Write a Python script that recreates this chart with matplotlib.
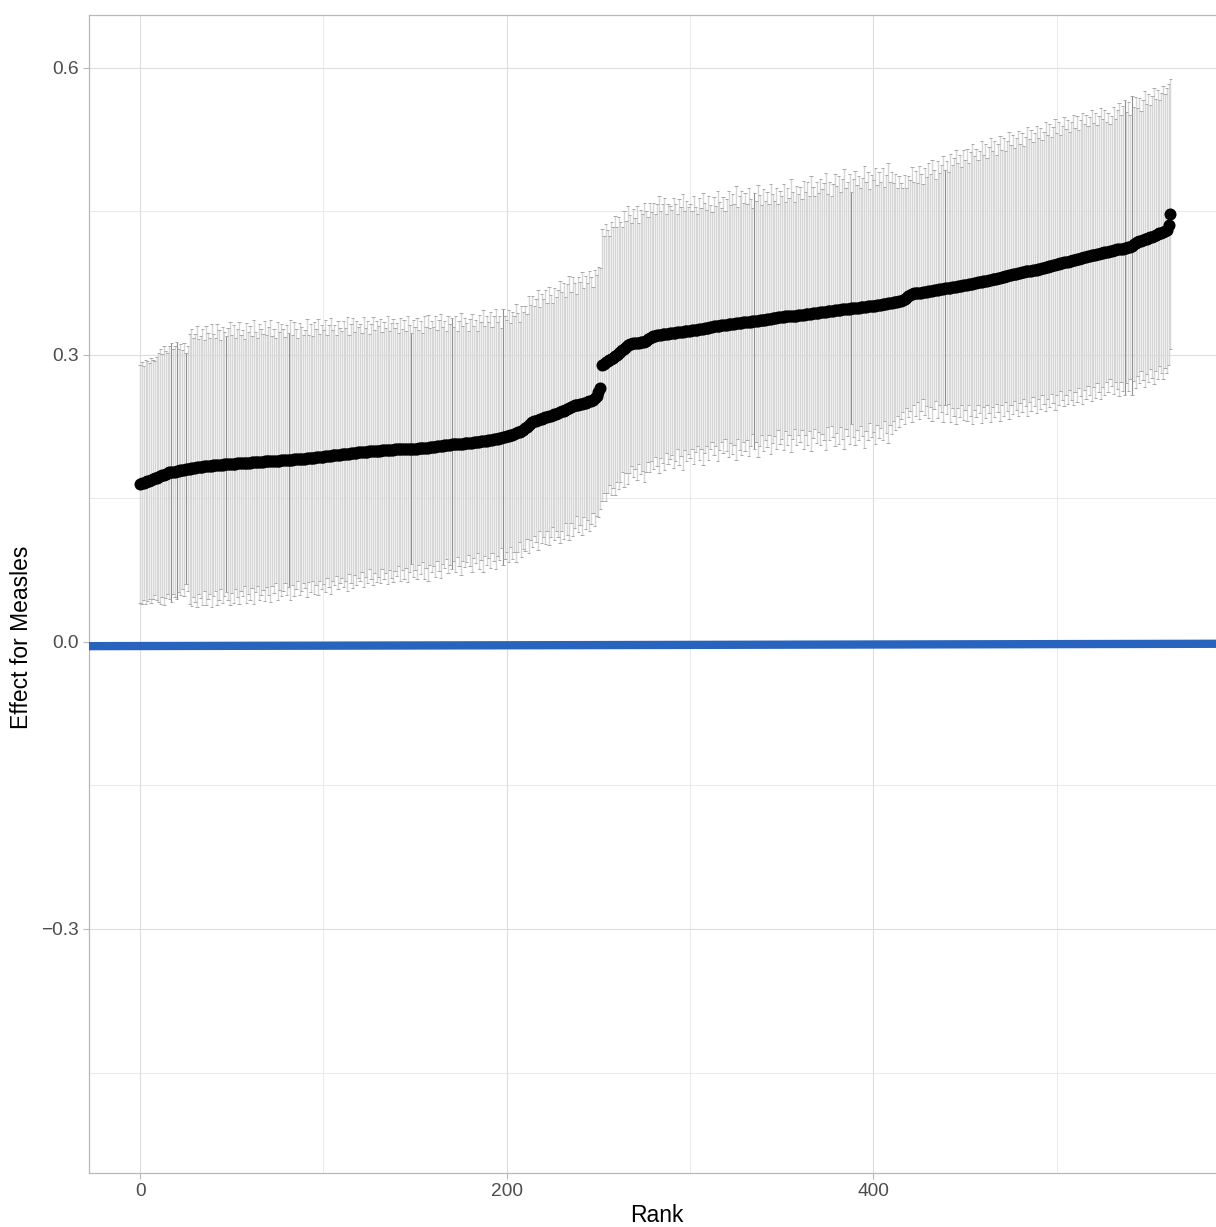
import matplotlib
matplotlib.use('Agg')
import matplotlib.pyplot as plt
import numpy as np

plt.rcParams['font.family'] = ['Liberation Sans', 'DejaVu Sans']

# Estimated effect per rank (ranks 0..562)
est = [
0.165,0.166,0.166,0.167,0.168,0.168,0.169,0.170,0.171,0.171,
0.172,0.173,0.174,0.174,0.175,0.176,0.177,0.177,0.178,0.178,
0.179,0.179,0.180,0.180,0.180,0.181,0.181,0.181,0.182,0.182,
0.182,0.183,0.183,0.183,0.183,0.184,0.184,0.184,0.184,0.184,
0.185,0.185,0.185,0.185,0.185,0.185,0.186,0.186,0.186,0.186,
0.186,0.186,0.186,0.187,0.187,0.187,0.187,0.187,0.187,0.187,
0.187,0.188,0.188,0.188,0.188,0.188,0.188,0.188,0.189,0.189,
0.189,0.189,0.189,0.189,0.189,0.189,0.189,0.190,0.190,0.190,
0.190,0.190,0.190,0.190,0.191,0.191,0.191,0.191,0.191,0.191,
0.191,0.192,0.192,0.192,0.192,0.192,0.193,0.193,0.193,0.193,
0.193,0.194,0.194,0.194,0.194,0.195,0.195,0.195,0.195,0.195,
0.196,0.196,0.196,0.196,0.196,0.197,0.197,0.197,0.197,0.198,
0.198,0.198,0.198,0.198,0.198,0.199,0.199,0.199,0.199,0.199,
0.199,0.199,0.200,0.200,0.200,0.200,0.200,0.200,0.200,0.201,
0.201,0.201,0.201,0.201,0.201,0.201,0.202,0.202,0.202,0.202,
0.202,0.202,0.203,0.203,0.203,0.203,0.203,0.203,0.204,0.204,
0.204,0.204,0.205,0.205,0.205,0.205,0.206,0.206,0.206,0.206,
0.207,0.207,0.207,0.207,0.207,0.207,0.207,0.208,0.208,0.208,
0.208,0.208,0.209,0.209,0.209,0.209,0.210,0.210,0.210,0.210,
0.211,0.211,0.211,0.212,0.212,0.212,0.213,0.213,0.214,0.214,
0.215,0.215,0.216,0.216,0.217,0.218,0.219,0.219,0.220,0.221,
0.223,0.225,0.227,0.229,0.230,0.231,0.231,0.232,0.233,0.233,
0.234,0.235,0.235,0.236,0.236,0.237,0.238,0.238,0.239,0.240,
0.241,0.241,0.242,0.243,0.244,0.245,0.246,0.247,0.247,0.248,
0.249,0.249,0.250,0.250,0.251,0.252,0.252,0.253,0.255,0.257,
0.261,0.265,
0.289,0.290,0.292,0.293,0.294,0.296,0.297,0.299,
0.300,0.302,0.303,0.305,0.306,0.308,0.310,0.311,0.311,0.312,
0.312,0.312,0.312,0.313,0.313,0.313,0.314,0.316,0.318,0.319,
0.320,0.320,0.321,0.321,0.321,0.322,0.322,0.322,0.322,0.323,
0.323,0.323,0.323,0.324,0.324,0.324,0.324,0.325,0.325,0.325,
0.325,0.326,0.326,0.326,0.326,0.327,0.327,0.327,0.328,0.328,
0.328,0.329,0.329,0.330,0.330,0.330,0.330,0.331,0.331,0.331,
0.331,0.332,0.332,0.332,0.332,0.333,0.333,0.333,0.333,0.334,
0.334,0.334,0.334,0.334,0.335,0.335,0.335,0.335,0.336,0.336,
0.336,0.336,0.337,0.337,0.337,0.338,0.338,0.338,0.339,0.339,
0.339,0.339,0.340,0.340,0.340,0.341,0.341,0.341,0.341,0.342,
0.342,0.342,0.342,0.343,0.343,0.343,0.343,0.344,0.344,0.344,
0.344,0.345,0.345,0.345,0.345,0.346,0.346,0.346,0.346,0.347,
0.347,0.347,0.347,0.348,0.348,0.348,0.348,0.348,0.349,0.349,
0.349,0.349,0.349,0.350,0.350,0.350,0.350,0.351,0.351,0.351,
0.351,0.351,0.352,0.352,0.352,0.353,0.353,0.353,0.354,0.354,
0.354,0.355,0.355,0.355,0.356,0.356,0.357,0.358,0.359,0.361,
0.362,0.363,0.364,0.364,0.365,0.365,0.365,0.366,0.366,0.366,
0.367,0.367,0.367,0.368,0.368,0.368,0.369,0.369,0.369,0.370,
0.370,0.370,0.370,0.371,0.371,0.371,0.372,0.372,0.372,0.373,
0.373,0.373,0.374,0.374,0.374,0.375,0.375,0.376,0.376,0.376,
0.377,0.377,0.377,0.378,0.378,0.379,0.379,0.379,0.380,0.380,
0.381,0.381,0.382,0.382,0.383,0.383,0.384,0.384,0.384,0.385,
0.385,0.386,0.386,0.387,0.387,0.388,0.388,0.389,0.389,0.389,
0.390,0.390,0.391,0.391,0.392,0.392,0.393,0.393,0.394,0.394,
0.395,0.395,0.396,0.396,0.397,0.397,0.397,0.398,0.398,0.399,
0.399,0.400,0.400,0.401,0.401,0.402,0.402,0.403,0.403,0.404,
0.404,0.404,0.405,0.405,0.406,0.406,0.407,0.407,0.407,0.408,
0.408,0.409,0.409,0.410,0.410,0.411,0.411,0.412,0.412,0.413,
0.413,0.414,0.416,0.417,0.418,0.419,0.419,0.420,0.421,0.421,
0.422,0.423,0.423,0.424,0.425,0.426,0.427,0.427,0.428,0.429,
0.430,0.436,0.447]

# Half-width of the interval per rank
ci_half = [
.124,.126,.122,.127,.125,.123,.128,.125,.122,.127,
.130,.133,.127,.135,.129,.126,.132,.135,.128,.131,
.134,.127,.131,.125,.132,.121,.128,.141,.145,.135,
.140,.147,.133,.137,.144,.131,.146,.139,.134,.148,
.137,.132,.147,.141,.130,.144,.138,.134,.142,.148,
.135,.145,.131,.140,.147,.134,.139,.129,.146,.137,
.143,.132,.148,.136,.130,.144,.139,.134,.146,.132,
.140,.147,.131,.138,.128,.145,.135,.142,.137,.129,
.141,.133,.146,.131,.143,.136,.127,.142,.138,.130,
.135,.145,.129,.140,.128,.142,.134,.144,.129,.138,
.133,.142,.127,.137,.144,.131,.136,.126,.140,.133,
.129,.139,.132,.143,.125,.135,.141,.127,.138,.131,
.134,.125,.141,.130,.137,.123,.133,.140,.127,.136,
.131,.138,.124,.134,.128,.140,.125,.133,.137,.127,
.132,.122,.137,.126,.135,.124,.139,.129,.121,.134,
.127,.136,.123,.132,.120,.137,.126,.139,.124,.131,
.125,.136,.121,.131,.138,.124,.129,.119,.134,.126,
.131,.122,.134,.118,.128,.137,.123,.130,.125,.117,
.129,.135,.121,.127,.116,.133,.124,.137,.120,.130,
.123,.134,.118,.128,.136,.122,.127,.115,.134,.127,
.121,.132,.117,.129,.123,.135,.125,.115,.131,.124,
.128,.118,.134,.123,.131,.120,.127,.136,.117,.130,
.124,.133,.119,.135,.126,.117,.132,.122,.129,.137,
.125,.134,.118,.131,.138,.121,.135,.128,.116,.133,
.127,.137,.120,.132,.124,.136,.129,.118,.134,.126,
.131,.126,
.142,.134,.145,.137,.130,.143,.136,.146,
.133,.142,.136,.128,.144,.132,.145,.135,.127,.140,
.131,.143,.126,.138,.134,.146,.136,.128,.141,.130,
.139,.127,.137,.145,.129,.135,.142,.125,.136,.132,
.128,.141,.134,.123,.139,.130,.144,.125,.136,.129,
.133,.124,.140,.128,.121,.137,.126,.142,.131,.123,
.138,.127,.120,.135,.125,.141,.130,.122,.134,.119,
.132,.139,.124,.136,.126,.143,.121,.133,.138,.125,
.135,.123,.140,.129,.118,.134,.126,.142,.131,.120,
.137,.125,.133,.121,.141,.130,.123,.136,.118,.132,
.127,.139,.120,.134,.124,.143,.129,.119,.135,.126,
.133,.121,.140,.127,.137,.123,.144,.131,.122,.136,
.125,.139,.128,.134,.145,.122,.135,.120,.132,.142,
.129,.140,.123,.136,.146,.126,.133,.141,.121,.135,
.143,.128,.138,.124,.135,.147,.130,.140,.122,.137,
.132,.144,.125,.139,.129,.142,.122,.135,.146,.127,
.137,.124,.134,.119,.131,.123,.117,.130,.115,.126,
.121,.133,.117,.128,.114,.132,.124,.112,.129,.120,
.133,.122,.136,.125,.116,.134,.121,.129,.139,.123,
.132,.121,.140,.127,.135,.143,.128,.137,.124,.141,
.131,.142,.126,.138,.146,.133,.140,.128,.137,.147,
.132,.143,.129,.139,.148,.134,.144,.130,.140,.149,
.133,.145,.131,.141,.150,.136,.146,.132,.142,.149,
.135,.146,.132,.141,.151,.137,.147,.133,.143,.150,
.136,.147,.133,.142,.151,.138,.148,.134,.144,.152,
.137,.148,.134,.143,.151,.139,.148,.135,.145,.152,
.138,.149,.135,.144,.152,.139,.148,.136,.145,.152,
.138,.149,.135,.144,.152,.140,.149,.136,.146,.133,
.141,.150,.137,.146,.153,.140,.149,.154,.142,.151,
.138,.156,.143,.152,.140,.149,.136,.146,.155,.141,
.150,.138,.147,.155,.142,.151,.139,.146,.153,.143,
.149,.147,.141]

# Ranks whose interval is drawn darker (overlapping intervals)
dark_ranks = [17, 20, 25, 47, 81, 148, 170, 198, 335, 388, 439, 537, 541]

# Reference line
ref_line_x = [-28.1, 590.1]
ref_line_y = [-0.0045, -0.0020]

x_major = [0, 200, 400]
x_minor = [100, 300, 500]
y_major = [-0.3, 0.0, 0.3, 0.6]
y_minor = [-0.45, -0.15, 0.15, 0.45]
y_labels = ['\u22120.3', '0.0', '0.3', '0.6']

rank = np.arange(len(est))
est_a = np.array(est)
hw = np.array(ci_half)
lo = est_a - hw
hi = est_a + hw

W, H = 1216, 1227
fig = plt.figure(figsize=(W / 100, H / 100), dpi=100)
L, R, T, B = 88.6, 1222.0, 15.0, 1173.0
ax = fig.add_axes([L / W, 1 - B / H, (R - L) / W, (B - T) / H])
ax.set_xlim(-28.1, 590.1)
ax.set_ylim(-0.555, 0.655)

ax.set_xticks(x_major)
ax.set_xticks(x_minor, minor=True)
ax.set_yticks(y_major)
ax.set_yticks(y_minor, minor=True)
ax.set_yticklabels(y_labels)
ax.set_xticklabels([str(v) for v in x_major])
ax.grid(True, which='major', color='#dedede', linewidth=0.8)
ax.grid(True, which='minor', color='#e6e6e6', linewidth=0.6)
ax.set_axisbelow(True)

for s in ['left', 'top', 'bottom']:
    ax.spines[s].set_color('#b8b8b8')
    ax.spines[s].set_linewidth(0.9)
ax.spines['right'].set_visible(False)

ax.tick_params(which='major', length=4.5, width=0.8, color='#b8b8b8',
               labelcolor='#4d4d4d', labelsize=13.8, pad=2.5)
ax.tick_params(which='minor', length=0)

# error bars
is_dark = np.isin(rank, dark_ranks)
ax.vlines(rank[~is_dark], lo[~is_dark], hi[~is_dark], color='#d6d6d6', linewidth=1.0, zorder=2)
ax.vlines(rank[is_dark], lo[is_dark], hi[is_dark], color='#8f8f8f', linewidth=0.8, zorder=2.1)
cap = 0.9
ax.hlines(lo, rank - cap, rank + cap, color='#a8a8a8', linewidth=0.7, zorder=2.2)
ax.hlines(hi, rank - cap, rank + cap, color='#a8a8a8', linewidth=0.7, zorder=2.2)

# points
ax.scatter(rank, est_a, s=75, color='black', zorder=4, linewidths=0)

# reference line
ax.plot(ref_line_x, ref_line_y, color='#2864be', linewidth=6, zorder=3, solid_capstyle='butt')

ax.set_xlabel('Rank', fontsize=16.5, color='black')
ax.set_ylabel('Effect for Measles', fontsize=16.5, color='black')
ax.xaxis.label.set_va('center')
ax.yaxis.label.set_va('center')
ax.xaxis.set_label_coords((657 - L) / (R - L), (B - 1216) / (B - T))
ax.yaxis.set_label_coords((22 - L) / (R - L), (B - 637) / (B - T))

fig.savefig('out.png', dpi=100)
